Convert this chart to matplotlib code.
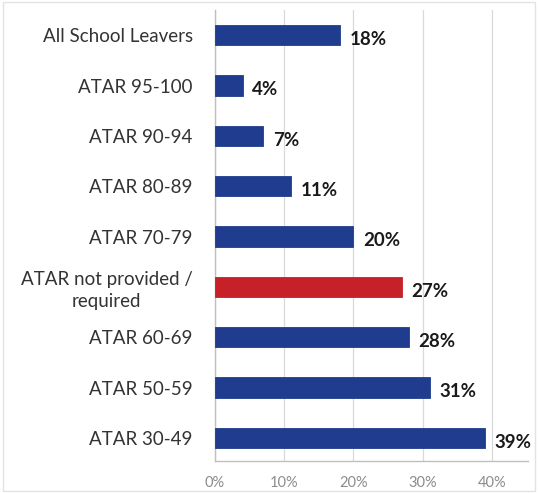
import matplotlib.pyplot as plt
from matplotlib.patches import Rectangle
from matplotlib.transforms import ScaledTranslation

BLUE = "#1f3c8f"
RED = "#c62128"
GRID = "#d9d9d9"
SPINE = "#bfbfbf"
LABEL_INK = "#333333"
TICK_INK = "#8c8c8c"

categories = ["All School Leavers", "ATAR 95-100", "ATAR 90-94", "ATAR 80-89", "ATAR 70-79",
              "ATAR not provided /\nrequired", "ATAR 60-69", "ATAR 50-59", "ATAR 30-49"]
values = [18, 4, 7, 11, 20, 27, 28, 31, 39]
highlight = "ATAR not provided /\nrequired"
xticks = [0, 10, 20, 30, 40]
xtick_labels = ["0%", "10%", "20%", "30%", "40%"]

plt.rcParams["font.family"] = ["Lato", "DejaVu Sans"]

fig = plt.figure(figsize=(5.38, 4.93), dpi=100)
fig.patch.set_facecolor("white")
ax = fig.add_axes([0.3996, 0.0649, 0.9814 - 0.3996, 0.9797 - 0.0649])

ypos = list(range(len(categories)))
colors = [RED if c == highlight else BLUE for c in categories]
ax.barh(ypos, values, height=0.4, color=colors, edgecolor=colors, linewidth=0.6, zorder=3)

for y, v in zip(ypos, values):
    ax.annotate(f"{v}%", xy=(v, y), xytext=(7, -3), textcoords="offset points",
                ha="left", va="center", fontsize=13.5, fontweight="bold", color="#1a1a1a")

ax.set_xlim(0, 45.2)
ax.set_ylim(8.46, -0.5)
ax.set_yticks(ypos)
ax.set_yticklabels(categories, fontsize=13.5, color=LABEL_INK, linespacing=1.3)
for lbl in ax.get_yticklabels():
    lbl.set_horizontalalignment("right")
    lbl.set_multialignment("center")
    if "\n" in lbl.get_text():
        lbl.set_transform(lbl.get_transform() + ScaledTranslation(0, 4 / 72, fig.dpi_scale_trans))
ax.set_xticks(xticks)
ax.set_xticklabels(xtick_labels, fontsize=10.5, color=TICK_INK)
ax.tick_params(axis="x", length=0, pad=11)
ax.tick_params(axis="y", length=0, pad=16)

ax.grid(axis="x", color=GRID, linewidth=0.9, zorder=0)
ax.set_axisbelow(True)
for s in ["top", "right"]:
    ax.spines[s].set_visible(False)
for s in ["left", "bottom"]:
    ax.spines[s].set_color(SPINE)
    ax.spines[s].set_linewidth(1.0)

fig.patches.append(Rectangle((0.005, 0.004), 0.99, 0.992, transform=fig.transFigure,
                             fill=False, edgecolor="#e3e3e3", linewidth=1.0))

fig.savefig("out.png", dpi=100, facecolor="white")
